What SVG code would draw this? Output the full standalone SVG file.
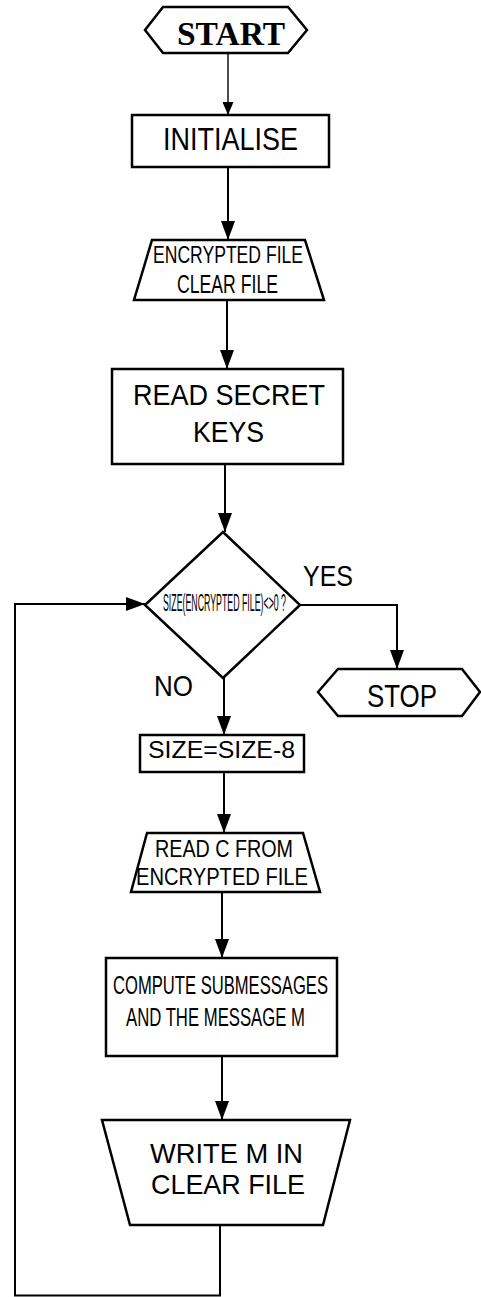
<svg xmlns="http://www.w3.org/2000/svg" width="481" height="1297" viewBox="0 0 481 1297">
<style>
.shape{fill:#fff;stroke:#000;stroke-width:2.5;stroke-linejoin:miter}
.conn{fill:none;stroke:#000;stroke-width:2}
.t{font-family:"Liberation Sans",Arial,sans-serif;fill:#000}
.ts{font-family:"Liberation Serif","Times New Roman",serif;fill:#000}
</style>
<defs>
<marker id="arr" viewBox="0 0 19 14" markerWidth="19" markerHeight="14" refX="19" refY="7" orient="auto" markerUnits="userSpaceOnUse">
<path d="M0,0 L19,7 L0,14 z" fill="#000"/>
</marker>
<marker id="arrs" viewBox="0 0 13 11" markerWidth="13" markerHeight="11" refX="13" refY="5.5" orient="auto" markerUnits="userSpaceOnUse">
<path d="M0,0 L13,5.5 L0,11 z" fill="#000"/>
</marker>
</defs>
<rect width="481" height="1297" fill="#fff"/>
<g id="connectors">
<path class="conn" style="stroke-width:1.4" d="M228,53 V115" marker-end="url(#arrs)"/>
<path class="conn" d="M228,167 V240" marker-end="url(#arr)"/>
<path class="conn" d="M227,300 V369" marker-end="url(#arr)"/>
<path class="conn" d="M225,464 V532" marker-end="url(#arr)"/>
<path class="conn" d="M300,605 H397 V669" marker-end="url(#arr)"/>
<path class="conn" d="M224,678 V735" marker-end="url(#arr)"/>
<path class="conn" d="M224,772 V833" marker-end="url(#arr)"/>
<path class="conn" d="M222,892 V958" marker-end="url(#arr)"/>
<path class="conn" d="M222,1056 V1120" marker-end="url(#arr)"/>
<path class="conn" d="M220,1225 V1295.5 H15 V604 H145" marker-end="url(#arr)"/>
</g>
<g id="start">
<polygon class="shape" points="145,30 163,7 288,7 307,30 288,53 163,53"/>
<text class="ts" x="177" y="45" font-size="33" font-weight="bold" textLength="108" lengthAdjust="spacingAndGlyphs">START</text>
</g>
<g id="initialise">
<rect class="shape" x="132" y="115" width="197" height="52"/>
<text class="t" x="163" y="150" font-size="31" textLength="135" lengthAdjust="spacingAndGlyphs">INITIALISE</text>
</g>
<g id="open-files">
<polygon class="shape" points="152,240 305,240 324,300 134,300"/>
<text class="t" x="153" y="263" font-size="24" textLength="150" lengthAdjust="spacingAndGlyphs">ENCRYPTED FILE</text>
<text class="t" x="177" y="293" font-size="25" textLength="101" lengthAdjust="spacingAndGlyphs">CLEAR FILE</text>
</g>
<g id="read-keys">
<rect class="shape" x="112" y="369" width="231" height="95"/>
<text class="t" x="133" y="405" font-size="29" textLength="192" lengthAdjust="spacingAndGlyphs">READ SECRET</text>
<text class="t" x="193" y="442" font-size="29" textLength="71" lengthAdjust="spacingAndGlyphs">KEYS</text>
</g>
<g id="decision">
<polygon class="shape" points="223,532 300,605 223,678 145,605"/>
<text class="t" x="163" y="611" font-size="23" textLength="123" lengthAdjust="spacingAndGlyphs">SIZE(ENCRYPTED FILE)&lt;&gt;0 ?</text>
<text class="t" x="303" y="586" font-size="30" textLength="50" lengthAdjust="spacingAndGlyphs">YES</text>
<text class="t" x="154" y="696" font-size="29" textLength="39" lengthAdjust="spacingAndGlyphs">NO</text>
</g>
<g id="stop">
<polygon class="shape" points="318,692 338,669 462,669 480,692 462,716 338,716"/>
<text class="t" x="367" y="707" font-size="31" textLength="70" lengthAdjust="spacingAndGlyphs">STOP</text>
</g>
<g id="size-dec">
<rect class="shape" x="140" y="735" width="164" height="37"/>
<text class="t" x="148" y="758" font-size="24" textLength="147" lengthAdjust="spacingAndGlyphs">SIZE=SIZE-8</text>
</g>
<g id="read-c">
<polygon class="shape" points="147,833 303,833 320,892 131,892"/>
<text class="t" x="155" y="857" font-size="23" textLength="138" lengthAdjust="spacingAndGlyphs">READ C FROM</text>
<text class="t" x="136" y="885" font-size="23" textLength="172" lengthAdjust="spacingAndGlyphs">ENCRYPTED FILE</text>
</g>
<g id="compute">
<rect class="shape" x="106" y="958" width="231" height="98"/>
<text class="t" x="113" y="994" font-size="26" textLength="215" lengthAdjust="spacingAndGlyphs">COMPUTE SUBMESSAGES</text>
<text class="t" x="126" y="1026" font-size="26" textLength="179" lengthAdjust="spacingAndGlyphs">AND THE MESSAGE M</text>
</g>
<g id="write">
<polygon class="shape" points="102,1120 350,1120 323,1225 130,1225"/>
<text class="t" x="150" y="1163" font-size="28" textLength="153" lengthAdjust="spacingAndGlyphs">WRITE M IN</text>
<text class="t" x="151" y="1194" font-size="28" textLength="154" lengthAdjust="spacingAndGlyphs">CLEAR FILE</text>
</g>
</svg>
